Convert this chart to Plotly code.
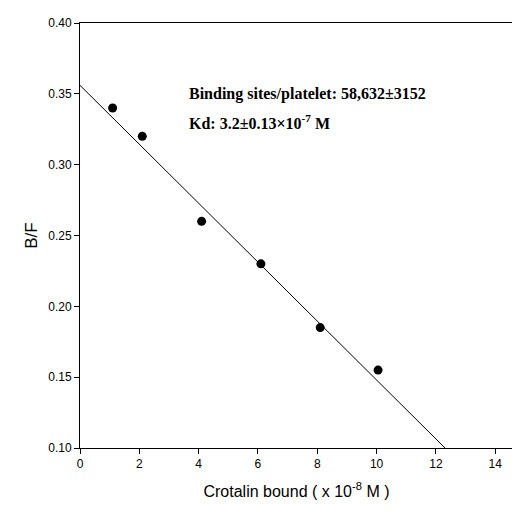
import numpy as np
import plotly.graph_objects as go

x_bound = [1.1, 2.1, 4.1, 6.1, 8.1, 10.05]
bf = [0.34, 0.32, 0.26, 0.23, 0.185, 0.155]
fit_intercept = 0.356
fit_slope = -0.0208

xl = np.array([0, (0.10 - fit_intercept) / fit_slope])
yl = fit_intercept + fit_slope * xl

fig = go.Figure()
fig.add_trace(go.Scatter(x=xl, y=yl, mode="lines", line=dict(color="black", width=1), showlegend=False))
fig.add_trace(go.Scatter(x=x_bound, y=bf, mode="markers", marker=dict(color="black", size=9), showlegend=False))

ax = dict(showline=True, mirror=True, linecolor="black", linewidth=1, ticks="outside", ticklen=5,
          tickcolor="black", showgrid=False, zeroline=False, tickfont=dict(family="Liberation Sans", size=12, color="black"))
fig.update_xaxes(range=[0, 14.6], tickvals=list(range(0, 15, 2)), **ax,
                 title=dict(text="Crotalin bound ( x 10<sup>-8</sup> M )", font=dict(family="Liberation Sans", size=16, color="black")))
fig.update_yaxes(range=[0.10, 0.40], tickvals=[0.10, 0.15, 0.20, 0.25, 0.30, 0.35, 0.40], tickformat=".2f", **ax,
                 title=dict(text="B/F", font=dict(family="Liberation Sans", size=17, color="black"), standoff=6))
fig.add_annotation(x=3.6, y=0.350, xref="x", yref="y", xanchor="left", showarrow=False,
                   text="<b>Binding sites/platelet: 58,632±3152</b>", font=dict(family="Liberation Serif", size=16, color="black"))
fig.add_annotation(x=3.6, y=0.330, xref="x", yref="y", xanchor="left", showarrow=False,
                   text="<b>Kd: 3.2±0.13×10<sup>-7</sup> M</b>", font=dict(family="Liberation Serif", size=16, color="black"))
fig.update_layout(width=520, height=521, margin=dict(l=72, r=15, t=8, b=81),
                  plot_bgcolor="white", paper_bgcolor="white")
fig.write_html("out.html")
